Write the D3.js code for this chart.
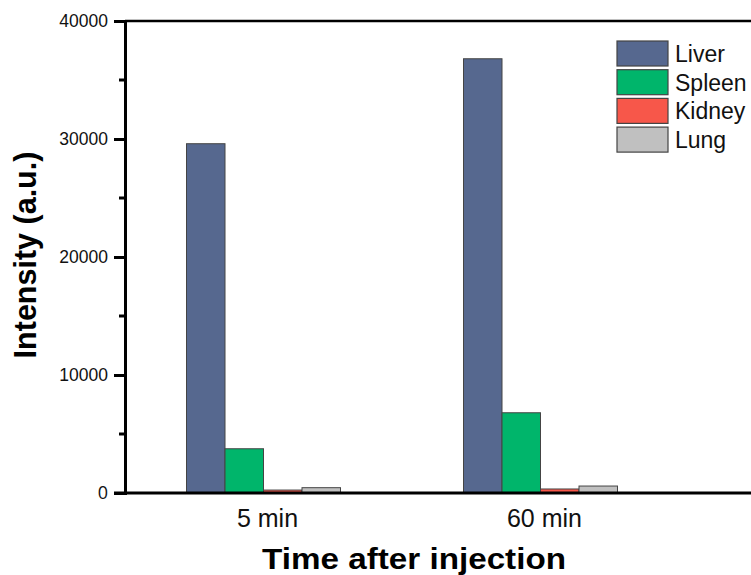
<!DOCTYPE html>
<html>
<head>
<meta charset="utf-8">
<script src="https://cdn.jsdelivr.net/npm/d3@7"></script>
<style>
  body { margin: 0; background: #fff; }
  text { font-family: "Liberation Sans", Arial, sans-serif; }
</style>
</head>
<body>
<svg width="751" height="575"></svg>
<script>
var categories = ['5 min', '60 min'];
var seriesNames = ['Liver', 'Spleen', 'Kidney', 'Lung'];
var liver = [29600, 36800];
var spleen = [3750, 6800];
var kidney = [250, 340];
var lung = [450, 590];
var yTicks = [0, 10000, 20000, 30000, 40000];
var yMinor = [5000, 15000, 25000, 35000];

var colors = ['#56688f', '#00b56b', '#f7574a', '#c0c0c0'];
var series = [liver, spleen, kidney, lung];

var svg = d3.select('svg');
var plotLeft = 125, plotTop = 21, plotBottom = 493, plotRight = 751;

var x = d3.scaleBand().domain(categories).range([plotLeft, plotLeft + 554]).padding(0);
var x1 = d3.scaleBand().domain(seriesNames).range([0, 154]);
var y = d3.scaleLinear().domain([0, 40000]).range([plotBottom, plotTop]);

// bars
categories.forEach(function(c, ci) {
    var cx = x(c) + x.bandwidth() / 2 - 77;
    svg.append('g')
        .selectAll('rect')
        .data(seriesNames)
        .enter()
        .append('rect')
        .attr('x', function(d) { return cx + x1(d); })
        .attr('width', x1.bandwidth())
        .attr('y', function(d, i) { return y(series[i][ci]); })
        .attr('height', function(d, i) { return plotBottom - y(series[i][ci]); })
        .attr('fill', function(d, i) { return colors[i]; })
        .attr('stroke', '#444')
        .attr('stroke-width', 1);
});

// top frame line
svg.append('line').attr('x1', plotLeft).attr('x2', plotRight).attr('y1', plotTop).attr('y2', plotTop)
    .attr('stroke', '#000').attr('stroke-width', 2.5);

// y axis
var yAxis = d3.axisLeft(y).tickValues(yTicks).tickFormat(d3.format('d')).tickSize(11).tickPadding(6);
var gy = svg.append('g').attr('transform', 'translate(' + plotLeft + ',0)').call(yAxis);
gy.select('.domain').attr('stroke-width', 3);
gy.selectAll('.tick line').attr('stroke-width', 3);
gy.selectAll('.tick text').style('font-size', '17.5px').attr('fill', '#111');
gy.selectAll('.tick').filter(function(d) { return d === 0; }).select('text')
    .style('font-family', '"Open Sans", sans-serif').style('font-size', '18px');

// minor ticks
svg.append('g').selectAll('line').data(yMinor).enter().append('line')
    .attr('x1', plotLeft - 6).attr('x2', plotLeft)
    .attr('y1', function(d) { return y(d); }).attr('y2', function(d) { return y(d); })
    .attr('stroke', '#000').attr('stroke-width', 3);

// x axis
svg.append('line').attr('x1', plotLeft - 11).attr('x2', plotRight).attr('y1', plotBottom).attr('y2', plotBottom)
    .attr('stroke', '#000').attr('stroke-width', 3);
svg.append('g').selectAll('text').data(categories).enter().append('text')
    .attr('x', function(d) { return x(d) + x.bandwidth() / 2 + 4; })
    .attr('y', 527)
    .attr('text-anchor', 'middle')
    .style('font-size', '25px')
    .attr('fill', '#111')
    .text(function(d) { return d; });

// titles
svg.append('text')
    .attr('x', 262).attr('y', 569)
    .attr('textLength', 304).attr('lengthAdjust', 'spacingAndGlyphs')
    .style('font-size', '29px').style('font-weight', 'bold')
    .text('Time after injection');
svg.append('text')
    .attr('transform', 'translate(36,255) rotate(-90)')
    .attr('text-anchor', 'middle')
    .style('font-size', '30.5px').style('font-weight', 'bold')
    .text('Intensity (a.u.)');

// legend
var lg = svg.append('g').attr('transform', 'translate(617,41)');
var rows = lg.selectAll('g').data(seriesNames).enter().append('g')
    .attr('transform', function(d, i) { return 'translate(0,' + (i * 28.7) + ')'; });
rows.append('rect').attr('width', 51).attr('height', 25)
    .attr('fill', function(d, i) { return colors[i]; })
    .attr('stroke', '#444').attr('stroke-width', 1.2);
rows.append('text').attr('x', 58).attr('y', 21)
    .style('font-size', '23px').attr('fill', '#111')
    .text(function(d) { return d; });
</script>
</body>
</html>
